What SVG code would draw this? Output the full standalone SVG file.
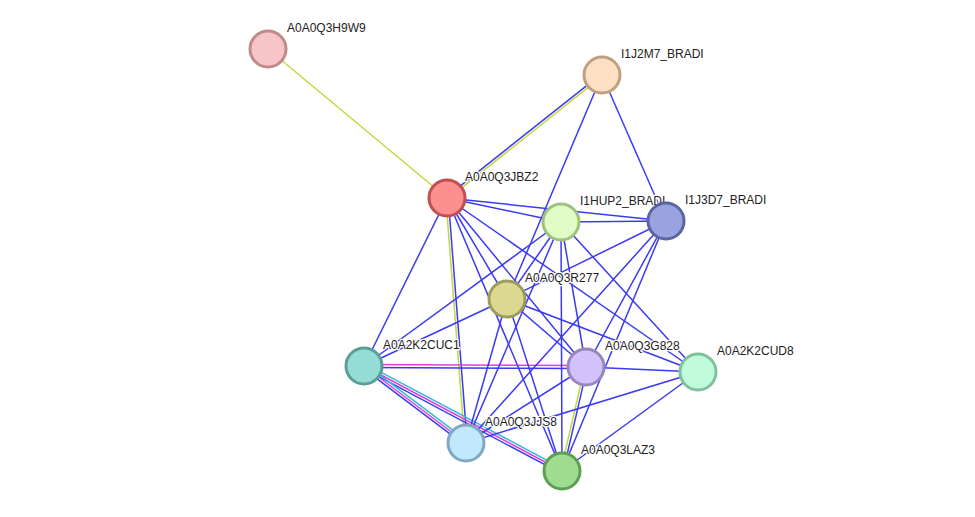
<svg xmlns="http://www.w3.org/2000/svg" width="975" height="517" viewBox="0 0 975 517">
<style>
.e{stroke:#3a3af5;stroke-width:1.5;fill:none}
.t{stroke:#c3d83a;stroke-width:1.5;fill:none}
.m{stroke:#dd3fdd;stroke-width:1.5;fill:none}
.c{stroke:#2fbcd6;stroke-width:1.5;fill:none}
.n{stroke-width:3}
text{font-family:"Liberation Sans",Arial,sans-serif;font-size:12px;fill:#222;stroke:#fff;stroke-width:2.5;paint-order:stroke;stroke-linejoin:round}
</style>
<rect width="975" height="517" fill="#fff"/>
<g id="edges">
<line class="t" x1="268" y1="49" x2="447" y2="198"/>
<line class="e" x1="446.25" y1="197.06" x2="601.25" y2="74.06"/>
<line class="t" x1="447.75" y1="198.94" x2="602.75" y2="75.94"/>
<line class="t" x1="445.8" y1="198.1" x2="464.8" y2="443.1"/>
<line class="e" x1="448.2" y1="197.9" x2="467.2" y2="442.9"/>
<line class="t" x1="584.8" y1="366.7" x2="560.8" y2="470.7"/>
<line class="e" x1="587.2" y1="367.3" x2="563.2" y2="471.3"/>
<line class="m" x1="364" y1="364.5" x2="586" y2="365.5"/>
<line class="e" x1="364" y1="367.5" x2="586" y2="368.5"/>
<line class="c" x1="365.13" y1="363.79" x2="563.13" y2="468.79"/>
<line class="m" x1="364" y1="366" x2="562" y2="471"/>
<line class="e" x1="362.87" y1="368.21" x2="560.87" y2="473.21"/>
<line class="c" x1="365.45" y1="364.08" x2="467.45" y2="441.08"/>
<line class="m" x1="364" y1="366" x2="466" y2="443"/>
<line class="e" x1="362.55" y1="367.92" x2="464.55" y2="444.92"/>
<line class="e" x1="447" y1="198" x2="561" y2="222"/>
<line class="e" x1="447" y1="198" x2="666" y2="221"/>
<line class="e" x1="447" y1="198" x2="507" y2="299"/>
<line class="e" x1="447" y1="198" x2="364" y2="366"/>
<line class="e" x1="447" y1="198" x2="586" y2="367"/>
<line class="e" x1="447" y1="198" x2="698" y2="372"/>
<line class="e" x1="447" y1="198" x2="562" y2="471"/>
<line class="e" x1="602" y1="75" x2="507" y2="299"/>
<line class="e" x1="602" y1="75" x2="666" y2="221"/>
<line class="e" x1="561" y1="222" x2="666" y2="221"/>
<line class="e" x1="561" y1="222" x2="507" y2="299"/>
<line class="e" x1="561" y1="222" x2="364" y2="366"/>
<line class="e" x1="561" y1="222" x2="586" y2="367"/>
<line class="e" x1="561" y1="222" x2="698" y2="372"/>
<line class="e" x1="561" y1="222" x2="466" y2="443"/>
<line class="e" x1="561" y1="222" x2="562" y2="471"/>
<line class="e" x1="666" y1="221" x2="507" y2="299"/>
<line class="e" x1="666" y1="221" x2="586" y2="367"/>
<line class="e" x1="666" y1="221" x2="466" y2="443"/>
<line class="e" x1="666" y1="221" x2="562" y2="471"/>
<line class="e" x1="507" y1="299" x2="364" y2="366"/>
<line class="e" x1="507" y1="299" x2="586" y2="367"/>
<line class="e" x1="507" y1="299" x2="698" y2="372"/>
<line class="e" x1="507" y1="299" x2="466" y2="443"/>
<line class="e" x1="507" y1="299" x2="562" y2="471"/>
<line class="e" x1="586" y1="367" x2="698" y2="372"/>
<line class="e" x1="586" y1="367" x2="466" y2="443"/>
<line class="e" x1="698" y1="372" x2="466" y2="443"/>
<line class="e" x1="698" y1="372" x2="562" y2="471"/>
</g>
<g id="H9W9"><circle class="n" cx="268" cy="49" r="18" fill="#f7c5c7" stroke="#c08a8c"/><text x="287" y="32">A0A0Q3H9W9</text></g>
<g id="I1J2M7"><circle class="n" cx="602" cy="75" r="18" fill="#fddfc3" stroke="#c0a07e"/><text x="621" y="58">I1J2M7_BRADI</text></g>
<g id="JBZ2"><circle class="n" cx="447" cy="198" r="18" fill="#fe8f8f" stroke="#c05050"/><text x="465" y="181">A0A0Q3JBZ2</text></g>
<g id="I1HUP2"><circle class="n" cx="561" cy="222" r="18" fill="#e0fdc6" stroke="#a0c080"/><text x="580" y="205">I1HUP2_BRADI</text></g>
<g id="I1J3D7"><circle class="n" cx="666" cy="221" r="18" fill="#99a3e0" stroke="#5a65a0"/><text x="685" y="204">I1J3D7_BRADI</text></g>
<g id="R277"><circle class="n" cx="507" cy="299" r="18" fill="#dbd991" stroke="#9e9c5a"/><text x="525" y="282">A0A0Q3R277</text></g>
<g id="CUC1"><circle class="n" cx="364" cy="366" r="18" fill="#93ddd6" stroke="#5a9f97"/><text x="383" y="349">A0A2K2CUC1</text></g>
<g id="G828"><circle class="n" cx="586" cy="367" r="18" fill="#d2c2fb" stroke="#9787bb"/><text x="605" y="350">A0A0Q3G828</text></g>
<g id="CUD8"><circle class="n" cx="698" cy="372" r="18" fill="#c0fbdb" stroke="#80c09c"/><text x="717" y="355">A0A2K2CUD8</text></g>
<g id="JJS8"><circle class="n" cx="466" cy="443" r="18" fill="#c1e8fd" stroke="#80a8c0"/><text x="485" y="426">A0A0Q3JJS8</text></g>
<g id="LAZ3"><circle class="n" cx="562" cy="471" r="18" fill="#9edc90" stroke="#5c9e52"/><text x="581" y="454">A0A0Q3LAZ3</text></g>
</svg>
